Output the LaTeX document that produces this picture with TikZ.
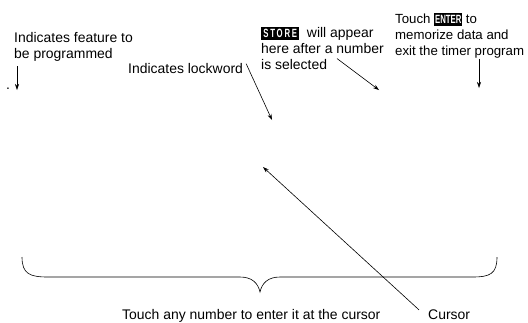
\documentclass[tikz,border=0pt]{standalone}
\usepackage{fontspec}
\setmainfont{Liberation Sans}
\newfontfamily\keyfont[FakeStretch=0.65]{Liberation Sans}
\usepackage{xcolor}
\usetikzlibrary{arrows.meta, positioning, calc}

% black LCD-style key label: width, text
\newcommand{\lcdkey}[2]{{\setlength{\fboxsep}{0.5pt}\colorbox{black}{\makebox[#1]{\rule[-2.5pt]{0pt}{12pt}\textcolor{white}{\keyfont\fontsize{12}{12}\selectfont\bfseries #2}}}}}

\begin{document}
\begin{tikzpicture}[x=1bp, y=-1bp,
  note/.style={font=\fontsize{14}{16}\selectfont, align=left, inner sep=0pt},
  ptr/.style={-{Stealth[length=6bp, width=4bp]}, line width=0.6bp}]
\useasboundingbox (0,0) rectangle (528,322);
% Callout texts
\node[note, anchor=north west] (feature) at (14,32) {Indicates feature to\\be programmed};
\node[note, anchor=west] (lock) at (128,69) {Indicates lockword};
\node[note, anchor=north west] (store) at (261,27) {\lcdkey{37bp}{\addfontfeature{LetterSpace=15}STORE}\ \ will appear\\here after a number\\is selected};
\node[note, anchor=north west, font=\fontsize{13.3}{16}\selectfont] (enter) at (395,13) {Touch \lcdkey{27bp}{ENTER} to\\memorize data and\\exit the timer program};
\node[note, anchor=west] (touch) at (122,316) {Touch any number to enter it at the cursor};
\node[note, anchor=west] (cursor) at (428,315) {Cursor};
\node[note] (dot) at (8,89) {.};
% Arrow tips
\coordinate (featureTip) at (17,90);
\coordinate (lockTip) at (272,120);
\coordinate (storeTip) at (379,90);
\coordinate (enterTip) at (479,88);
\coordinate (cursorTip) at (263,167);
% Arrows
\draw[ptr] ($(featureTip |- feature.south)+(0,5)$) -- (featureTip);
\draw[ptr] ([xshift=3bp]lock.north east) -- (lockTip);
\draw[ptr] ($(store.south west)+(76,-11)$) -- (storeTip);
\draw[ptr] ($(enterTip |- enter.south)+(0,1)$) -- (enterTip);
\draw[ptr] ([xshift=-9bp]cursor.north west) -- (cursorTip);
% Brace over the keypad
\draw[line width=0.6bp] (22,257) .. controls (22,274) and (30,277) .. (48,277) -- (240,277)
  .. controls (252,277) and (258,283) .. (260,292) .. controls (262,283) and (268,277) .. (280,277)
  -- (472,277) .. controls (490,277) and (497,274) .. (497,257);
\end{tikzpicture}
\end{document}
